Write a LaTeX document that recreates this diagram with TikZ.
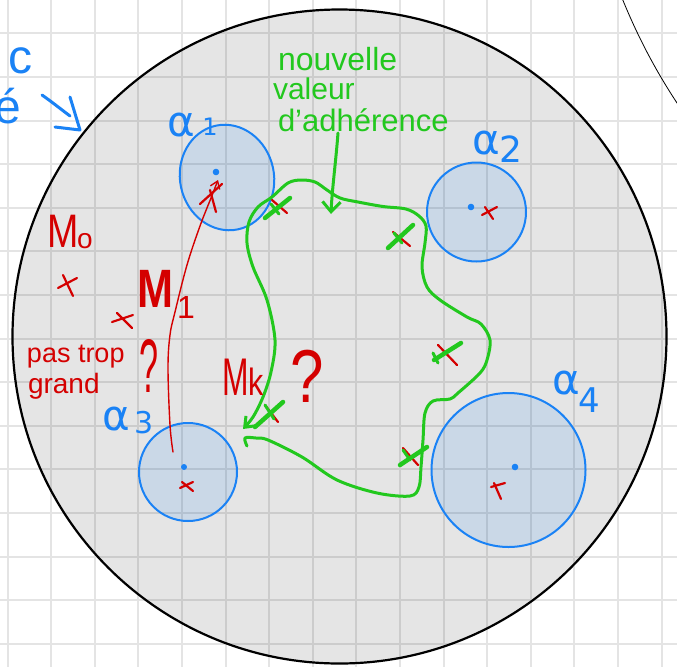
\documentclass[tikz,border=0pt]{standalone}
\usepackage{fontspec}
\setmainfont{Liberation Sans}
\newfontfamily\dvfont{DejaVu Sans}
\usetikzlibrary{arrows.meta}
\definecolor{myblue}{HTML}{1A82F5}
\definecolor{myred}{HTML}{D40000}
\definecolor{mygreen}{HTML}{22C81E}
\definecolor{gridgray}{HTML}{E4E4E4}
\newcommand\fsz[1]{\fontsize{#1}{#1}\selectfont}
\begin{document}
\begin{tikzpicture}[x=1pt,y=-1pt,
  gridline/.style={draw=gridgray,line width=2pt},
  bigdisc/.style={draw=black,line width=2.2pt,fill=black,fill opacity=0.1},
  zone/.style={draw=myblue,line width=2pt,fill=myblue,fill opacity=0.13},
  bluedot/.style={fill=myblue},
  redx/.style={draw=myred,line width=2.2pt,line cap=round},
  redline/.style={draw=myred,line width=1.4pt,line cap=round},
  greenx/.style={draw=mygreen,line width=4.5pt,line cap=round},
  greentick/.style={draw=mygreen,line width=3pt,line cap=round},
  greenline/.style={draw=mygreen,line width=3pt,line cap=round,line join=round},
  blueline/.style={draw=myblue,line width=3pt,line cap=round,line join=round},
  lbl/.style={inner sep=0pt,outer sep=0pt}]
\fill[white] (0,0) rectangle (677,667);
\useasboundingbox (0,0) rectangle (677,667);
% grid
\foreach \k in {0,...,15} \draw[gridline] ({7.5+43.6*\k},0) -- ({7.5+43.6*\k},667);
\foreach \k in {0,...,14} \draw[gridline] (0,{33.3+43.6*\k}) -- (677,{33.3+43.6*\k});
% big disc
\draw[bigdisc] (339.5,336.5) circle[radius=327pt];
% thin line top right
\draw[line width=0.8pt] (622,-2) .. controls (637,35) and (655,70) .. (679,106);
% blue zones
\draw[zone, rotate around={12:(227,177.5)}] (227,177.5) ellipse[x radius=47pt, y radius=53pt];
\draw[zone] (476.5,212) circle[radius=49.5pt];
\draw[zone] (188,472) circle[radius=49pt];
\draw[zone] (508.5,470) circle[radius=77pt];
\fill[bluedot] (216,172) circle[radius=3.3pt];
\fill[bluedot] (471,207) circle[radius=3.3pt];
\fill[bluedot] (184,467) circle[radius=3pt];
\fill[bluedot] (515,467) circle[radius=3.3pt];
% red crosses
\draw[redx] (58,288) -- (77,278); \draw[redx] (63,275) -- (73,296);
\draw[redx] (112,322) -- (133,315); \draw[redx] (117,313) -- (132,328);
\draw[redx] (482,215) -- (497,207); \draw[redx] (485,207) -- (493,219);
\draw[redx] (180,488) -- (193,482); \draw[redx] (182,482) -- (193,491);
\draw[redx] (491,487) -- (505,483); \draw[redx] (494,483) -- (501,499);
\draw[redx] (200,204) -- (222,184); \draw[redx] (210,190) -- (216,212);
% red arrow
\coordinate (rstart) at (173,452);
\coordinate (rend) at (218,180);
\draw[redline,-{Straight Barb[length=7pt,width=10pt]}] plot[smooth,tension=0.6] coordinates {(rstart) (170,425) (168,368) (170,335) (175,312) (187,265) (200,226) (211,198) (rend)};
% marks on the green curve: red then green
\draw[redx] (272,200) -- (287,213);
\draw[greenx] (265,218) -- (290,198); \draw[greentick] (271,204) -- (279,214);
\draw[redx] (393,232) -- (410,246);
\draw[greenx] (388,248) -- (413,225); \draw[greentick] (394,233) -- (402,243);
\draw[redx] (438,345) -- (457,365);
\draw[greenx] (434,360) -- (461,343); \draw[greentick] (433,353) -- (438,363);
\draw[redx] (403,448) -- (418,465);
\draw[greenx] (400,465) -- (427,447); \draw[greentick] (403,450) -- (410,460);
\draw[redx] (265,405) -- (278,422);
\draw[greenx] (255,427) -- (283,402); \draw[greentick] (265,405) -- (274,419);
% green loop
\coordinate (gstart) at (247,446);
\coordinate (gtip) at (243,429);
\draw[greenline,-{Straight Barb[length=9pt,width=14pt]}] plot[smooth,tension=0.55] coordinates {(gstart) (245,438) (256,438) (268,440) (302,457) (337,480) (377,493) (410,496) (419,487) (421,467) (423,440) (425,413) (433,401) (450,399) (458,393) (480,373) (487,360) (490,340) (481,324) (467,317) (440,300) (427,287) (422,267) (425,243) (426,226) (419,216) (406,209) (383,206.5) (358,202) (340,198) (327,190) (315,182) (301,180) (288,183) (272,197) (258,207) (249,222) (247,243) (253,267) (267,300) (275,340) (271,372) (263,397) (253,417) (gtip)};
% green labels and arrow
\node[lbl, mygreen, anchor=base west, font=\fsz{32}] (nouv) at (278,70) {nouvelle};
\node[lbl, mygreen, anchor=base west, font=\fsz{30}] (val) at (273,99) {valeur};
\node[lbl, mygreen, anchor=base west, font=\fsz{31}] (adh) at (278,131) {d'adhérence};
\coordinate (garrowtop) at (338,133);
\coordinate (garrowtip) at (331,214);
\draw[greenline,-{Straight Barb[length=10pt,width=18pt]}] (garrowtop) .. controls (336,160) and (332,190) .. (garrowtip);
% blue labels
\node[lbl, myblue, font=\dvfont\fsz{42}] (a1) at (181,125) {α};
\node[lbl, myblue, font=\dvfont\fsz{24}] (a1i) at (210,127) {1};
\node[lbl, myblue, font=\dvfont\fsz{42}] (a2) at (486,143) {α};
\node[lbl, myblue, font=\dvfont\fsz{36}] (a2i) at (511,149) {2};
\node[lbl, myblue, font=\dvfont\fsz{42}] (a3) at (116,419) {α};
\node[lbl, myblue, font=\dvfont\fsz{30}] (a3i) at (144,423) {3};
\node[lbl, myblue, font=\dvfont\fsz{42}] (a4) at (566,383) {α};
\node[lbl, myblue, font=\dvfont\fsz{34}] (a4i) at (589,400) {4};
% partial blue text at left edge and arrow
\node[lbl, myblue, anchor=base east, font=\fsz{48}] (cpart) at (33,73) {c};
\node[lbl, myblue, anchor=base east, font=\fsz{48}] (epart) at (21,123) {é};
\draw[blueline] (42,95) .. controls (52,102) and (62,110) .. (70,116);
\draw[blueline] (70,97) -- (80,130) -- (55,127);
% red labels
\node[lbl, myred, anchor=base west, font=\fsz{47}] (m0) at (47,247) {\scalebox{0.8}[1]{M}};
\node[lbl, myred, anchor=base west, font=\fsz{28}] (m0i) at (77,248) {o};
\node[lbl, myred, anchor=base west, font=\bfseries\fsz{54}] (m1) at (137,307) {\scalebox{0.8}[1]{M}};
\node[lbl, myred, anchor=base west, font=\fsz{32}] (m1i) at (177,318) {1};
\node[lbl, myred, anchor=base west, font=\fsz{27}] (pas) at (27,362) {pas trop};
\node[lbl, myred, anchor=base west, font=\fsz{28}] (grand) at (28,393) {grand};
\node[lbl, myred, font=\fsz{76}] (q1) at (149,366) {\scalebox{0.45}[1]{?}};
\node[lbl, myred, anchor=base west, font=\fsz{53}] (mk) at (222,395) {\scalebox{0.6}[1]{M}};
\node[lbl, myred, anchor=base west, font=\fsz{38}] (mki) at (248,395) {\scalebox{0.8}[1]{k}};
\node[lbl, myred, font=\fsz{75}] (q2) at (307,376) {\scalebox{0.8}[1]{?}};
\end{tikzpicture}
\end{document}
